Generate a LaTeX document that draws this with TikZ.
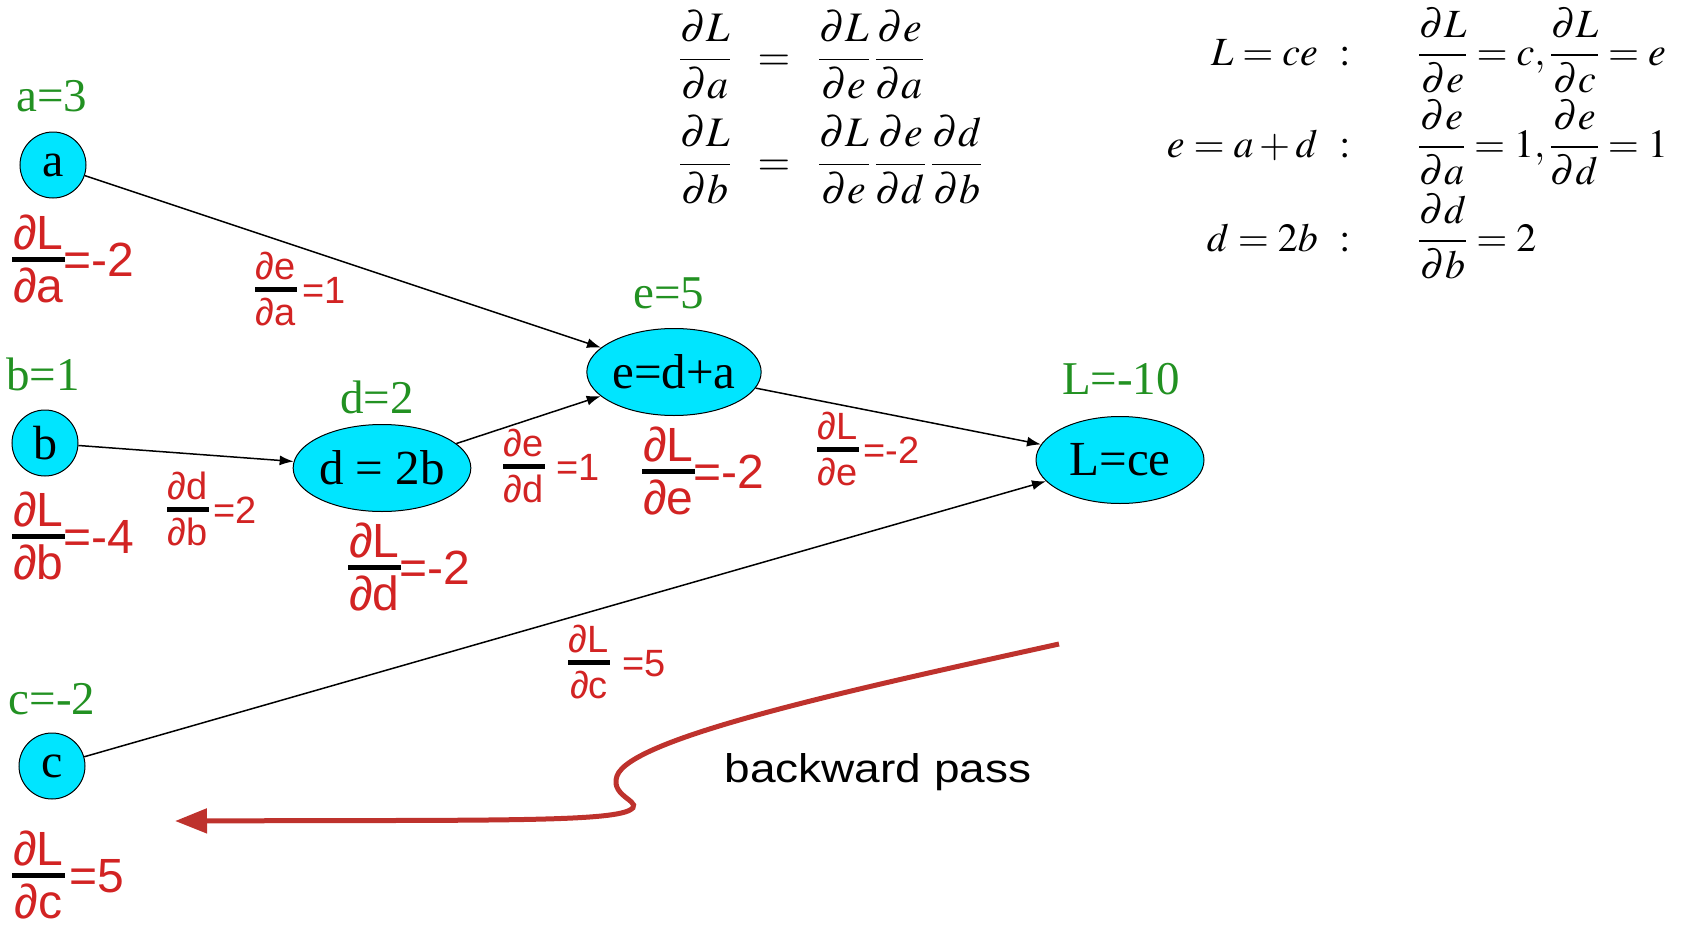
\documentclass[tikz,border=0pt]{standalone}
\usepackage{amsmath}
\usepackage{mathptmx}
\usepackage[no-math]{fontspec}
\setmainfont{Liberation Serif}
\newfontfamily\arialf{Liberation Sans}
\usetikzlibrary{arrows.meta,shapes.geometric}
\definecolor{nodecyan}{RGB}{0,229,255}
\definecolor{lgreen}{RGB}{34,145,34}
\definecolor{lred}{RGB}{210,35,35}
\definecolor{arrred}{RGB}{190,50,45}
% fraction with red text and black bar: #1 num, #2 den, #3 bar thickness, #4 gap
\newcommand{\rfrac}[4]{{%
  \setbox0=\hbox{\textcolor{lred}{#1}}\setbox2=\hbox{\textcolor{lred}{#2}}%
  \dimen0=\wd0 \ifdim\wd2>\dimen0 \dimen0=\wd2\fi
  \advance\dimen0 by 0.04em
  \raise0.3em\hbox{\vbox{\offinterlineskip\hbox to\dimen0{\hss\box0\hss}\kern#4\hrule height #3 width\dimen0}}%
  \kern-\dimen0
  \raise0.3em\hbox{\vtop{\offinterlineskip\kern#4\hbox to\dimen0{\hss\box2\hss}}}}}
\newcommand{\biglab}[4]{\rfrac{∂#1}{∂#2}{5pt}{0.13em}\kern#4\textcolor{lred}{#3}}
\newcommand{\smlab}[4]{\rfrac{∂#1}{∂#2}{4.5pt}{0.18em}\kern#4\textcolor{lred}{#3}}
\tikzset{
  circnode/.style={circle,draw=black,line width=1pt,fill=nodecyan,minimum size=66pt,inner sep=0pt,font=\fontsize{48}{56}\selectfont},
  ellnode/.style={ellipse,draw=black,line width=1pt,fill=nodecyan,minimum width=168pt,minimum height=87pt,inner sep=0pt,font=\fontsize{49}{56}\selectfont},
  vallab/.style={text=lgreen,inner sep=0pt,font=\fontsize{47}{54}\selectfont},
  gradbig/.style={anchor=base west,inner sep=0pt,font=\arialf\fontsize{48}{54}\selectfont},
  gradsm/.style={anchor=base west,inner sep=0pt,font=\arialf\fontsize{38}{44}\selectfont},
  eqn/.style={inner sep=0pt,font=\fontsize{42}{50}\selectfont},
  eqr/.style={inner sep=0pt,font=\fontsize{40}{48}\selectfont},
  edge/.style={draw=black,line width=1.5pt,-{Latex[length=14pt,width=10pt]}},
  bpass/.style={draw=arrred,line width=5pt,-{Triangle[length=32pt,width=24pt]}}
}
\begin{document}
\begin{tikzpicture}[x=1pt,y=-1pt]
\useasboundingbox (0,0) rectangle (1687,926);
% nodes
\node[circnode] (a) at (53,165) {a};
\node[circnode] (b) at (45,443) {b};
\node[circnode] (c) at (52,766) {c};
\node[ellnode] (d) at (382,468) {d = 2b};
\node[ellnode] (e) at (674,372) {e=d+a};
\node[ellnode] (L) at (1120,460) {L=ce};
% value labels
\node[vallab] (va) at (52,96) {a=3};
\node[vallab] (vb) at (43,374) {b=1};
\node[vallab] (vc) at (52,699) {c=-2};
\node[vallab] (vd) at (377,397) {d=2};
\node[vallab] (ve) at (669,293) {e=5};
\node[vallab] (vL) at (1121,379) {L=-10};
% edges
\draw[edge] (a) -- (e);
\draw[edge] (b) -- (d);
\draw[edge] (d) -- (e);
\draw[edge] (e) -- (L);
\draw[edge] (c) -- (L);
% gradient labels at nodes
\node[gradbig] (ga) at (12,276) {\biglab{L}{a}{=-2}{-1pt}};
\node[gradbig] (gb) at (12,553) {\biglab{L}{b}{=-4}{-1pt}};
\node[gradbig] (gc) at (12,892) {\biglab{L}{c}{=5}{5pt}};
\node[gradbig] (gd) at (348,584) {\biglab{L}{d}{=-2}{-1pt}};
\node[gradbig] (ge) at (642,488) {\biglab{L}{e}{=-2}{-1pt}};
% gradient labels on edges
\node[gradsm] (gea) at (255,303) {\smlab{e}{a}{=1}{6pt}};
\node[gradsm] (gdb) at (167,523) {\smlab{d}{b}{=2}{5pt}};
\node[gradsm] (ged) at (503,480) {\smlab{e}{d}{=1}{12pt}};
\node[gradsm] (gLe) at (817,463) {\smlab{L}{e}{=-2}{5pt}};
\node[gradsm] (gLc) at (568,676) {\smlab{L}{c}{=5}{13pt}};
% chain rule equations
\node[eqn,anchor=base] (l1) at (705,70) {$\displaystyle\frac{\partial L}{\partial a}$};
\node[eqn,anchor=base] (l1q) at (774,70) {$=$};
\node[eqn,anchor=base west] (l1r) at (818,70) {$\displaystyle\frac{\partial L}{\partial e}\,\frac{\partial e}{\partial a}$};
\node[eqn,anchor=base] (l2) at (705,175) {$\displaystyle\frac{\partial L}{\partial b}$};
\node[eqn,anchor=base] (l2q) at (774,175) {$=$};
\node[eqn,anchor=base west] (l2r) at (818,175) {$\displaystyle\frac{\partial L}{\partial e}\,\frac{\partial e}{\partial d}\,\frac{\partial d}{\partial b}$};
% local derivatives
\node[eqr,anchor=base east] (r1l) at (1318,65) {$L=ce$};
\node[eqr,anchor=base] (r1c) at (1345,65) {$:$};
\node[eqr,anchor=base west] (r1r) at (1418,65) {$\displaystyle\frac{\partial L}{\partial e}=c,\frac{\partial L}{\partial c}=e$};
\node[eqr,anchor=base east] (r2l) at (1318,157) {$e=a+d$};
\node[eqr,anchor=base] (r2c) at (1345,157) {$:$};
\node[eqr,anchor=base west] (r2r) at (1418,157) {$\displaystyle\frac{\partial e}{\partial a}=1,\frac{\partial e}{\partial d}=1$};
\node[eqr,anchor=base east] (r3l) at (1318,251) {$d=2b$};
\node[eqr,anchor=base] (r3c) at (1345,251) {$:$};
\node[eqr,anchor=base west] (r3r) at (1418,251) {$\displaystyle\frac{\partial d}{\partial b}=2$};
% backward pass arrow
\coordinate (bs) at (1059,644);
\coordinate (be) at (175,821);
\draw[bpass] (bs) .. controls (850,690) and (630,738) .. (617,776)
  .. controls (609,798) and (648,802) .. (628,811)
  .. controls (600,822) and (480,820) .. (be);
\node[inner sep=0pt,anchor=base,font=\arialf\fontsize{40}{48}\selectfont,xscale=1.15] (bp) at (878,782) {backward pass};
\end{tikzpicture}
\end{document}
